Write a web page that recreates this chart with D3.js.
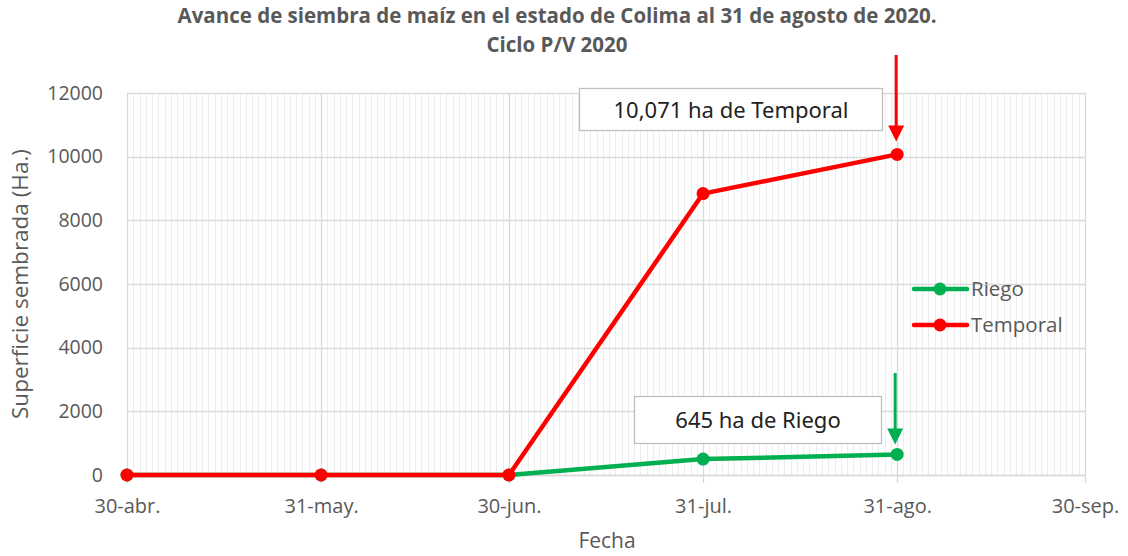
<!DOCTYPE html>
<html><head><meta charset="utf-8">
<script src="https://cdn.jsdelivr.net/npm/d3@7"></script>
<style>body{margin:0;background:#fff}svg{display:block}</style>
</head><body><svg id="c" width="1128" height="556"></svg>
<script>
const dates = ["2020-04-30","2020-05-31","2020-06-30","2020-07-31","2020-08-31"];
const riego = [0,0,0,500,645];
const temporal = [0,0,0,8840,10071];
const tickDates = ["2020-04-30","2020-05-31","2020-06-30","2020-07-31","2020-08-31","2020-09-30"];
const tickLabels = ["30-abr.","31-may.","30-jun.","31-jul.","31-ago.","30-sep."];
const yTicks = [0,2000,4000,6000,8000,10000,12000];
const seriesNames = ["Riego","Temporal"];
const colors = ["#00b050","#ff0000"];

const parse = d3.utcParse("%Y-%m-%d");
const svg = d3.select("#c");
const m = {l:127,r:1085,t:93,b:475};
const x = d3.scaleUtc().domain([parse("2020-04-30"),parse("2020-09-30")]).range([m.l,m.r]);
const y = d3.scaleLinear().domain([0,12000]).range([m.b,m.t]);
const font = "'Open Sans', 'Noto Sans', sans-serif";

// minor daily gridlines
const days = d3.utcDay.range(parse("2020-04-30"), d3.utcDay.offset(parse("2020-09-30"),1));
svg.append("g").selectAll("line").data(days).join("line")
  .attr("x1",d=>Math.round(x(d))+0.5).attr("x2",d=>Math.round(x(d))+0.5)
  .attr("y1",m.t).attr("y2",m.b).attr("stroke","#ededed").attr("stroke-width",1);
// major gridlines
svg.append("g").selectAll("line").data(yTicks).join("line")
  .attr("x1",m.l).attr("x2",m.r).attr("y1",d=>Math.round(y(d))+0.5).attr("y2",d=>Math.round(y(d))+0.5)
  .attr("stroke","#d9d9d9").attr("stroke-width",1.3);
svg.append("g").selectAll("line").data(tickDates.map(parse)).join("line")
  .attr("x1",d=>Math.round(x(d))+0.5).attr("x2",d=>Math.round(x(d))+0.5)
  .attr("y1",m.t).attr("y2",m.b+8).attr("stroke","#d9d9d9").attr("stroke-width",1.3);

// axes
const xAxis = d3.axisBottom(x).tickValues(tickDates.map(parse)).tickFormat((d,i)=>tickLabels[i]).tickSize(0).tickPadding(24);
const gx = svg.append("g").attr("transform",`translate(0,${m.b})`).call(xAxis);
gx.select(".domain").attr("stroke","#d9d9d9").attr("stroke-width",1.3);
gx.selectAll("text").attr("font-family",font).attr("font-size",20).attr("fill","#595959");
const yAxis = d3.axisLeft(y).tickValues(yTicks).tickFormat(d3.format("d")).tickSize(0).tickPadding(24);
const gy = svg.append("g").attr("transform",`translate(${m.l},0)`).call(yAxis);
gy.select(".domain").remove();
gy.selectAll("text").attr("font-family",font).attr("font-size",19.5).attr("fill","#595959");

// lines
const pts = (vals)=>vals.map((v,i)=>[parse(dates[i]),v]);
const line = d3.line().x(d=>x(d[0])).y(d=>y(d[1]));
[riego,temporal].forEach((vals,k)=>{
  svg.append("path").datum(pts(vals)).attr("d",line).attr("fill","none")
    .attr("stroke",colors[k]).attr("stroke-width",4.5).attr("stroke-linejoin","round");
  svg.append("g").selectAll("circle").data(pts(vals)).join("circle")
    .attr("cx",d=>x(d[0])).attr("cy",d=>y(d[1])).attr("r",6.5).attr("fill",colors[k]);
});

// arrows
const last = dates.length-1;
function arrow(xp, y1, y2, col){
  svg.append("line").attr("x1",xp).attr("x2",xp).attr("y1",y1).attr("y2",y2-14)
    .attr("stroke",col).attr("stroke-width",3);
  svg.append("path").attr("d",`M${xp-8},${y2-16}L${xp+8},${y2-16}L${xp},${y2}Z`).attr("fill",col);
}
const xl = x(parse(dates[last]));
arrow(xl-1, 55, y(temporal[last])-13, colors[1]);
arrow(xl-2, 373, y(riego[last])-10, colors[0]);

// annotation boxes
function box(x0,y0,w,h,txt){
  svg.append("rect").attr("x",x0).attr("y",y0).attr("width",w).attr("height",h)
    .attr("fill","#fff").attr("stroke","#bfbfbf").attr("stroke-width",1.3);
  svg.append("text").attr("x",x0+w/2).attr("y",y0+h/2+8).attr("text-anchor","middle")
    .attr("font-family","'Noto Sans', sans-serif").attr("font-size",22).attr("fill","#222").text(txt);
}
box(579.5,88.5,303,42,"10,071 ha de Temporal");
box(634.5,396.5,247,47,"645 ha de Riego");

// legend
seriesNames.forEach((n,k)=>{
  const ly = 289 + k*36;
  svg.append("line").attr("x1",914).attr("x2",967).attr("y1",ly).attr("y2",ly)
    .attr("stroke",colors[k]).attr("stroke-width",4.5).attr("stroke-linecap","round");
  svg.append("circle").attr("cx",940).attr("cy",ly).attr("r",6.5).attr("fill",colors[k]);
  svg.append("text").attr("x",971).attr("y",ly+7).attr("font-family",font).attr("font-size",20.5)
    .attr("fill","#595959").text(n);
});

// titles
svg.append("text").attr("x",557).attr("y",23).attr("text-anchor","middle").attr("font-family",font)
  .attr("font-size",20.5).attr("font-weight","bold").attr("fill","#595959")
  .text("Avance de siembra de maíz en el estado de Colima al 31 de agosto de 2020.");
svg.append("text").attr("x",557).attr("y",52).attr("text-anchor","middle").attr("font-family",font)
  .attr("font-size",20.5).attr("font-weight","bold").attr("fill","#595959").text("Ciclo P/V 2020");
svg.append("text").attr("x",607).attr("y",548).attr("text-anchor","middle").attr("font-family",font)
  .attr("font-size",21).attr("fill","#595959").text("Fecha");
svg.append("text").attr("transform","translate(28,284) rotate(-90)").attr("text-anchor","middle")
  .attr("font-family",font).attr("font-size",22.5).attr("fill","#595959").text("Superficie sembrada (Ha.)");
</script></body></html>
